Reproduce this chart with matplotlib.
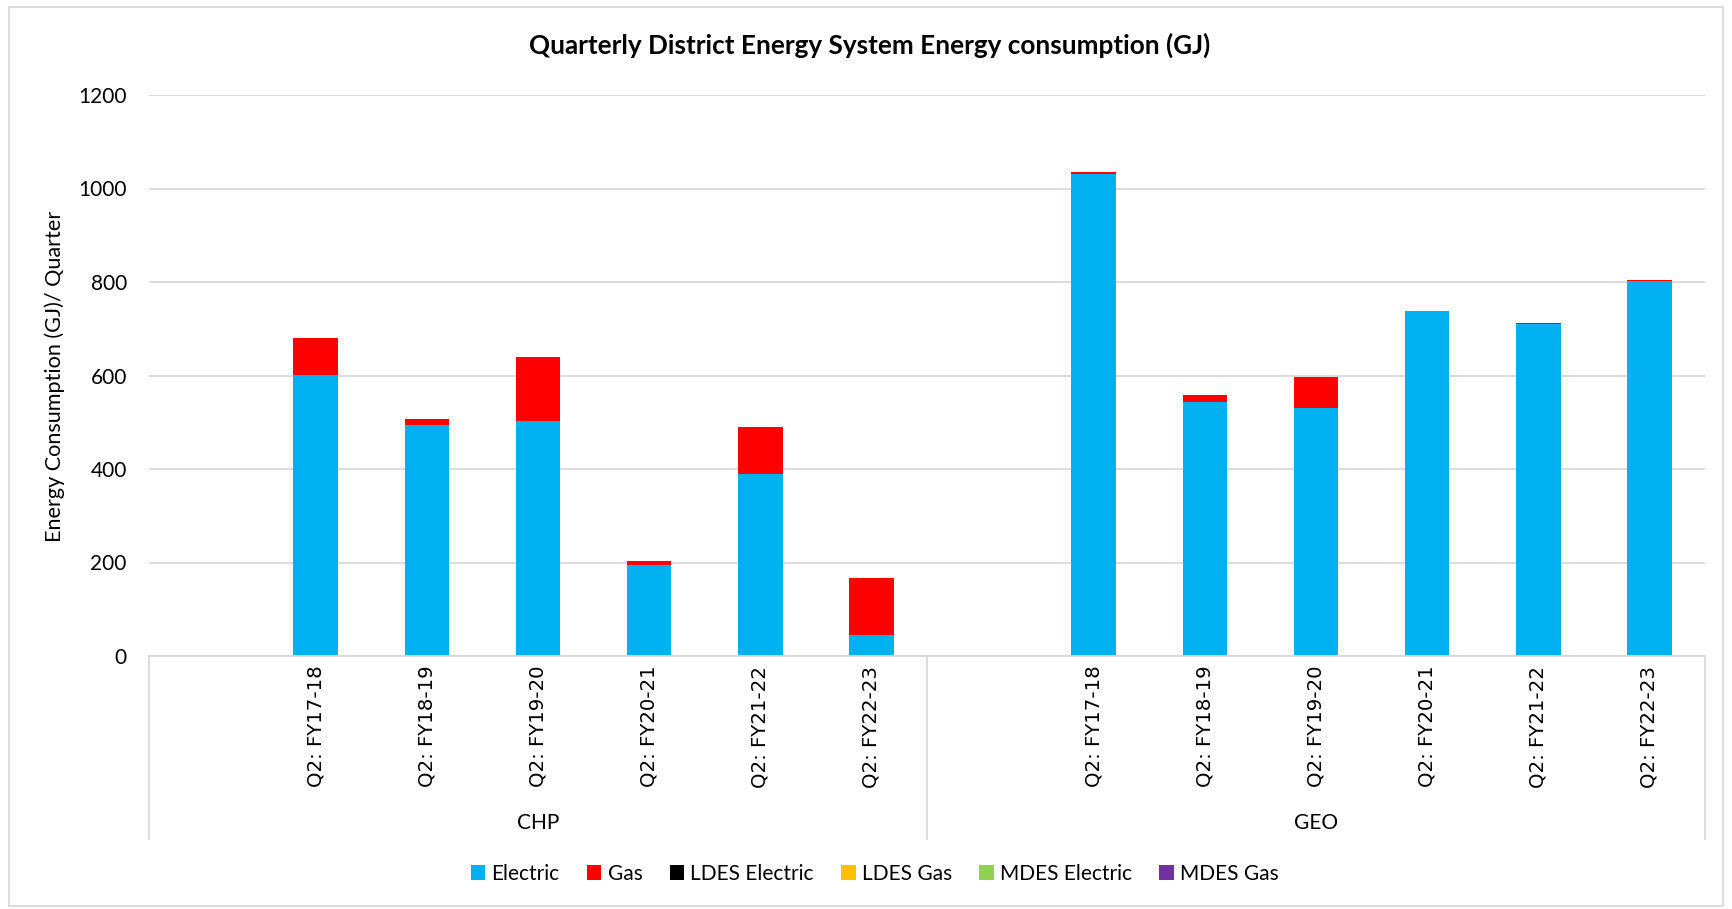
import numpy as np
import matplotlib
matplotlib.use("Agg")
import matplotlib.pyplot as plt
from matplotlib.patches import Rectangle, Patch
import matplotlib.transforms as mtransforms

# data (GJ per quarter)
groups = ["CHP", "GEO"]
quarters = ["", "Q2: FY17-18", "Q2: FY18-19", "Q2: FY19-20",
            "Q2: FY20-21", "Q2: FY21-22", "Q2: FY22-23"]
series = ["Electric", "Gas", "LDES Electric", "LDES Gas", "MDES Electric", "MDES Gas"]
colors = ["#00B0F0", "#FF0000", "#000000", "#FFC000", "#92D050", "#7030A0"]

# blank first slot in each group, as in the original sheet
electric = [0, 601, 495, 503, 194, 389, 44,
            0, 1030, 544, 531, 737, 710, 802]
gas = [0, 79, 11, 137, 10, 100, 122,
       0, 5, 14, 66, 0, 2, 2]
ldes_electric = [0] * 14
ldes_gas = [0] * 14
mdes_electric = [0] * 14
mdes_gas = [0] * 14

values = [electric, gas, ldes_electric, ldes_gas, mdes_electric, mdes_gas]

W, H = 1732, 909
fig = plt.figure(figsize=(W / 100, H / 100), dpi=100)
ax = fig.add_axes([149 / W, 1 - 656 / H, (1705 - 149) / W, (656 - 95) / H])

x = np.arange(len(quarters) * len(groups))
bottom = np.zeros(len(x))
for name, vals, c in zip(series, values, colors):
    ax.bar(x, vals, 0.4, bottom=bottom, color=c, label=name, zorder=3)
    bottom += np.array(vals)

ax.set_xlim(-0.5, len(x) - 0.5)
ax.set_ylim(0, 1200)
ax.set_yticks(range(0, 1201, 200))
ax.yaxis.grid(True, color="#D9D9D9", linewidth=1.3, zorder=0)
for s in ["top", "right", "left"]:
    ax.spines[s].set_visible(False)
ax.spines["bottom"].set_color("#D9D9D9")
ax.spines["bottom"].set_linewidth(1.3)
ax.spines["bottom"].set_zorder(4)

ax.tick_params(axis="y", length=0, pad=16, labelsize=15)
for lab in ax.get_yticklabels():
    lab.set_fontfamily("Lato")

ax.set_xticks(x)
ax.set_xticklabels(quarters * len(groups), rotation=90, fontsize=14.2,
                   fontfamily="DejaVu Sans")
ax.tick_params(axis="x", length=0, pad=7)

# group separators and group labels below the axis
trans = mtransforms.blended_transform_factory(ax.transData, ax.transAxes)
n = len(quarters)
for b in [-0.5, n - 0.5, 2 * n - 0.5]:
    ax.plot([b, b], [0, -0.327], transform=trans, color="#D9D9D9",
            linewidth=1.3, clip_on=False)
for i, g in enumerate(groups):
    ax.text(i * n + (n - 1) / 2, -0.298, g, transform=trans, ha="center",
            va="center", fontsize=15, fontfamily="Lato")

fig.text(870 / W, 1 - 45 / H, "Quarterly District Energy System Energy consumption (GJ)",
         ha="center", va="center", fontsize=18.8, fontweight="bold", fontfamily="Lato")
fig.text(55 / W, 1 - 376 / H, "Energy Consumption (GJ)/ Quarter", rotation=90,
         ha="center", va="center", fontsize=15.6, fontfamily="Lato")

handles = [Patch(facecolor=c, label=s) for s, c in zip(series, colors)]
fig.legend(handles=handles, loc="center", bbox_to_anchor=(0.505, 1 - 874 / H),
           ncol=6, frameon=False, handlelength=0.7, handleheight=0.7,
           handletextpad=0.3, columnspacing=1.3, prop={"family": "Lato", "size": 15})

# light chart-area border
fig.patches.append(Rectangle((9 / W, 3 / H), 1 - 18 / W, 1 - 10 / H,
                             transform=fig.transFigure, fill=False,
                             edgecolor="#D9D9D9", linewidth=1.3))

fig.savefig("out.png", dpi=100)
